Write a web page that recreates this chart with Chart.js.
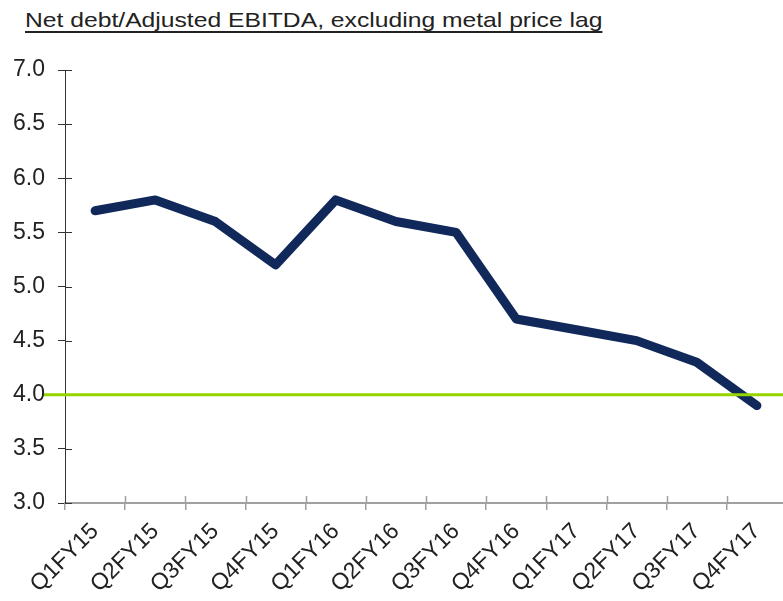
<!DOCTYPE html>
<html>
<head>
<meta charset="utf-8">
<script src="https://cdn.jsdelivr.net/npm/chart.js@4/dist/chart.umd.min.js"></script>
<style>
  html, body { margin: 0; padding: 0; background: #fff; overflow: hidden; }
  #title {
    position: absolute; left: 25px; top: 8px;
    font: 21px "Liberation Sans", Arial, sans-serif;
    line-height: 24px; color: #222;
    text-decoration: underline; text-underline-offset: 4px;
    transform: scaleX(1.175); transform-origin: left top;
    white-space: nowrap;
  }
  #wrap { position: absolute; left: 0; top: 0; width: 795px; height: 601px; }
</style>
</head>
<body>
<div id="title">Net debt/Adjusted EBITDA, excluding metal price lag</div>
<div id="wrap"><canvas id="ratio"></canvas></div>
<script>
const quarters = ['Q1FY15', 'Q2FY15', 'Q3FY15', 'Q4FY15', 'Q1FY16', 'Q2FY16',
                  'Q3FY16', 'Q4FY16', 'Q1FY17', 'Q2FY17', 'Q3FY17', 'Q4FY17'];
const netDebtRatio = [5.7, 5.8, 5.6, 5.2, 5.8, 5.6, 5.5, 4.7, 4.6, 4.5, 4.3, 3.9];
const yMin = 3.0;
const yMax = 7.0;
const yStep = 0.5;
const targetLevel = 4.0;

const fontFamily = '"Liberation Sans", Arial, sans-serif';

// inner half of the tick marks + the green target line
const extras = {
    id: 'extras',
    afterDraw(chart) {
        const c = chart.ctx;
        const x = chart.scales.x, y = chart.scales.y;
        const area = chart.chartArea;
        c.save();
        c.lineWidth = 1;
        c.strokeStyle = '#333';
        y.ticks.forEach((t, i) => {
            const py = Math.round(y.getPixelForTick(i)) + 0.5;
            c.beginPath();
            c.moveTo(area.left, py);
            c.lineTo(area.left + 7, py);
            c.stroke();
        });
        c.strokeStyle = '#a0a0a0';
        c.lineWidth = 1.5;
        for (let i = 1; i <= quarters.length; i++) {
            const px = Math.round(x.getPixelForValue(i - 0.5)) + 0.5;
            c.beginPath();
            c.moveTo(px, area.bottom);
            c.lineTo(px, area.bottom - 7);
            c.stroke();
        }
        const gy = y.getPixelForValue(targetLevel);
        c.strokeStyle = '#96d400';
        c.lineWidth = 3;
        c.beginPath();
        c.moveTo(44, gy);
        c.lineTo(chart.width, gy);
        c.stroke();
        c.restore();
    }
};

const ctx = document.getElementById('ratio').getContext('2d');
const ratioChart = new Chart(ctx, {
    type: 'line',
    data: {
        labels: quarters,
        datasets: [{
            label: 'Net debt/Adjusted EBITDA',
            data: netDebtRatio,
            borderColor: '#10285a',
            borderWidth: 9,
            borderCapStyle: 'round',
            borderJoinStyle: 'round',
            pointRadius: 0,
            tension: 0,
            fill: false
        }]
    },
    options: {
        responsive: true,
        maintainAspectRatio: false,
        animation: false,
        layout: {
            padding: { top: 70, left: 0, right: 8, bottom: 0 }
        },
        plugins: {
            legend: { display: false },
            tooltip: { enabled: false }
        },
        scales: {
            x: {
                offset: true,
                afterFit: s => { s.paddingLeft = 0; s.paddingRight = 0; s.height = 98; },
                grid: {
                    offset: true,
                    drawOnChartArea: false,
                    tickLength: 7,
                    color: '#a0a0a0',
                    lineWidth: 1.5
                },
                border: { color: '#a0a0a0', width: 2 },
                ticks: {
                    color: '#222',
                    font: { family: fontFamily, size: 23 },
                    minRotation: 45,
                    maxRotation: 45,
                    autoSkip: false,
                    padding: 8
                }
            },
            y: {
                min: yMin,
                max: yMax,
                afterFit: s => { s.width = 65; },
                grid: {
                    drawOnChartArea: false,
                    tickLength: 7,
                    color: '#333'
                },
                border: { color: '#333', width: 1 },
                ticks: {
                    stepSize: yStep,
                    color: '#222',
                    font: { family: fontFamily, size: 23 },
                    padding: 13,
                    callback: v => v.toFixed(1)
                }
            }
        }
    },
    plugins: [extras]
});
</script>
</body>
</html>
